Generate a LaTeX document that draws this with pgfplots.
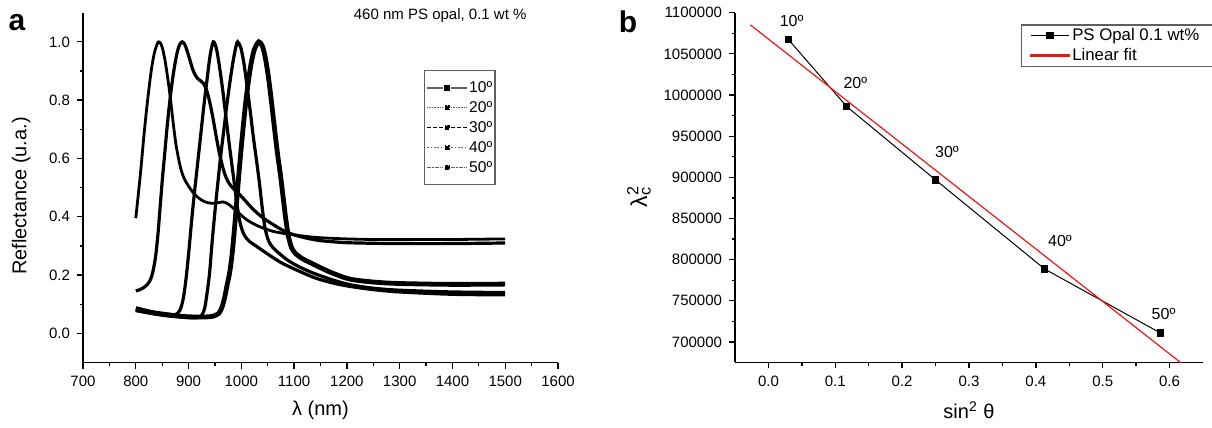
\documentclass[border=0pt]{standalone}
\usepackage{fontspec}
\setmainfont{Liberation Sans}
\usepackage{pgfplots}
\pgfplotsset{compat=1.18}

\definecolor{fitred}{RGB}{240,20,20}
\definecolor{leggray}{RGB}{95,95,95}

% Origin-like look: left and bottom axis lines, ticks outside
\pgfplotsset{
  originaxis/.style={
    scale only axis,
    axis x line=bottom, axis y line=left,
    axis line style={line width=0.65bp, -},
    tick align=outside,
    major tick length=3bp, minor tick length=1.7bp,
    every tick/.style={line width=0.65bp, black},
    minor tick num=1,
    tick label style={font=\fontsize{7.5bp}{8bp}\selectfont},
    label style={font=\fontsize{10bp}{12bp}\selectfont},
    /pgf/number format/assume math mode=true,
    /pgf/number format/1000 sep={},
    clip mode=individual,
    every axis title shift=0pt,
  }
}

\begin{document}
\begin{tikzpicture}
\useasboundingbox (0,0) rectangle (606bp,214bp);

% ---------- panel a ----------
\begin{axis}[originaxis,
  at={(41.5bp,32.75bp)}, anchor=south west,
  width=237.5bp, height=174.9bp,
  xmin=700, xmax=1600, ymin=-0.1, ymax=1.1,
  xtick={700,800,900,1000,1100,1200,1300,1400,1500,1600},
  ytick={0,0.2,0.4,0.6,0.8,1.0},
  yticklabel style={/pgf/number format/fixed, /pgf/number format/fixed zerofill, /pgf/number format/precision=1},
  xlabel={λ (nm)}, ylabel={Reflectance (u.a.)},
  xlabel style={at={(axis description cs:0.5,-0.136)}, anchor=center},
  ylabel style={at={(axis description cs:-0.13,0.476)}, anchor=center},
  title={460 nm PS opal, 0.1 wt \%},
  title style={at={(axis description cs:0.752,0.993)}, anchor=center, font=\fontsize{7.5bp}{8bp}\selectfont},
  legend cell align=left,
  legend style={at={(axis description cs:0.718,0.836)}, anchor=north west,
    draw=leggray, line width=0.65bp, inner xsep=0.75bp, inner ysep=3.5bp,
    font=\fontsize{7.8bp}{9bp}\selectfont,
    nodes={inner xsep=0.6bp, inner ysep=1bp, text height=6.3bp, text depth=1.7bp}},
  legend image code/.code={
    \draw[#1] (0bp,0bp) -- (8bp,0bp);
    \draw[#1] (12bp,0bp) -- (20bp,0bp);
    \fill[black] (9bp,-1bp) rectangle (11bp,1bp);},
]
% 50 deg
\addplot[black, line width=1.4bp, smooth, tension=0.5, forget plot] coordinates {
(800,0.395)(805,0.48)(810,0.57)(815,0.67)(820,0.76)(825,0.84)(830,0.91)(835,0.96)(840,0.99)(843,1.0)(847,0.995)(851,0.975)(856,0.93)(861,0.87)(866,0.8)(871,0.72)(876,0.65)(881,0.6)(886,0.56)(892,0.53)(900,0.505)(910,0.48)(920,0.463)(930,0.452)(940,0.447)(950,0.446)(958,0.449)(965,0.451)(972,0.447)(980,0.437)(990,0.421)(1000,0.405)(1010,0.39)(1025,0.374)(1040,0.362)(1060,0.35)(1080,0.343)(1100,0.338)(1125,0.332)(1150,0.328)(1200,0.324)(1250,0.322)(1300,0.322)(1400,0.322)(1500,0.324)
};
% 40 deg
\addplot[black, line width=1.6bp, smooth, tension=0.5, forget plot] coordinates {
(800,0.146)(808,0.15)(815,0.157)(821,0.166)(826,0.178)(830,0.195)(834,0.225)(838,0.27)(842,0.34)(846,0.43)(850,0.52)(855,0.62)(860,0.72)(866,0.82)(872,0.9)(878,0.96)(883,0.99)(888,1.0)(893,0.99)(898,0.965)(903,0.935)(908,0.905)(913,0.885)(918,0.873)(923,0.866)(928,0.858)(933,0.84)(938,0.81)(944,0.76)(950,0.7)(956,0.64)(962,0.59)(968,0.55)(975,0.52)(983,0.5)(992,0.485)(1000,0.47)(1010,0.45)(1020,0.43)(1035,0.405)(1050,0.385)(1065,0.368)(1080,0.352)(1100,0.338)(1125,0.326)(1150,0.318)(1175,0.314)(1200,0.311)(1250,0.309)(1300,0.308)(1400,0.308)(1500,0.31)
};
% 30 deg
\addplot[black, line width=1.6bp, smooth, tension=0.5, forget plot] coordinates {
(800,0.08)(820,0.073)(840,0.067)(860,0.063)(872,0.063)(880,0.07)(886,0.09)(891,0.13)(896,0.2)(901,0.29)(906,0.39)(911,0.48)(917,0.58)(923,0.68)(929,0.78)(935,0.87)(941,0.955)(947,1.0)(953,0.975)(959,0.91)(965,0.83)(971,0.74)(977,0.65)(982,0.58)(987,0.51)(992,0.44)(997,0.385)(1002,0.352)(1007,0.333)(1015,0.316)(1030,0.297)(1050,0.272)(1075,0.243)(1105,0.217)(1140,0.19)(1175,0.172)(1206,0.161)(1250,0.15)(1300,0.142)(1400,0.134)(1500,0.132)
};
% 20 deg
\addplot[black, line width=1.6bp, smooth, tension=0.5, forget plot] coordinates {
(800,0.078)(830,0.068)(860,0.06)(890,0.055)(910,0.053)(920,0.055)(926,0.065)(931,0.09)(936,0.15)(940,0.21)(944,0.3)(948,0.38)(952,0.455)(956,0.525)(961,0.61)(967,0.7)(973,0.79)(979,0.87)(985,0.94)(990,0.985)(993,1.0)(999,0.98)(1005,0.925)(1011,0.845)(1017,0.76)(1023,0.67)(1029,0.59)(1034,0.52)(1039,0.44)(1044,0.37)(1050,0.325)(1056,0.303)(1065,0.285)(1087,0.252)(1110,0.228)(1136,0.207)(1170,0.185)(1206,0.167)(1250,0.155)(1300,0.148)(1400,0.142)(1500,0.14)
};
% 10 deg
\addplot[black, line width=2.4bp, smooth, tension=0.5, forget plot] coordinates {
(800,0.085)(830,0.072)(860,0.064)(890,0.058)(916,0.056)(940,0.057)(950,0.061)(957,0.068)(963,0.088)(968,0.12)(973,0.165)(978,0.21)(983,0.28)(988,0.38)(992,0.47)(996,0.56)(1001,0.66)(1007,0.77)(1013,0.86)(1019,0.93)(1025,0.975)(1033,1.0)(1040,0.985)(1046,0.94)(1052,0.87)(1058,0.78)(1064,0.685)(1069,0.61)(1074,0.545)(1079,0.47)(1084,0.395)(1089,0.335)(1095,0.295)(1102,0.275)(1115,0.257)(1130,0.243)(1149,0.226)(1175,0.205)(1206,0.186)(1250,0.176)(1300,0.171)(1400,0.168)(1500,0.169)
};
\addlegendimage{leggray, line width=0.9bp}
\addlegendentry{10º}
\addlegendimage{leggray, line width=0.6bp, dash pattern=on 0.5bp off 0.3bp}
\addlegendentry{20º}
\addlegendimage{black, line width=0.6bp, dash pattern=on 2bp off 1bp}
\addlegendentry{30º}
\addlegendimage{leggray, line width=0.6bp, dash pattern=on 0.8bp off 0.9bp}
\addlegendentry{40º}
\addlegendimage{leggray, line width=0.6bp, dash pattern=on 2bp off 0.6bp on 0.6bp off 0.6bp}
\addlegendentry{50º}
\end{axis}

% ---------- panel b ----------
\begin{axis}[originaxis,
  at={(367.5bp,32.75bp)}, anchor=south west,
  width=234bp, height=174.9bp,
  xmin=-0.05, xmax=0.65, ymin=675000, ymax=1100000,
  xtick={0,0.1,0.2,0.3,0.4,0.5,0.6},
  ytick={700000,750000,800000,850000,900000,950000,1000000,1050000,1100000},
  scaled x ticks=false, scaled y ticks=false,
  xticklabel style={/pgf/number format/fixed, /pgf/number format/fixed zerofill, /pgf/number format/precision=1},
  yticklabel style={/pgf/number format/fixed, /pgf/number format/precision=0},
  xlabel={sin\textsuperscript{2} θ},
  ylabel={λ\rlap{\textsubscript{c}}\textsuperscript{2}},
  xlabel style={at={(axis description cs:0.5,-0.136)}, anchor=center},
  ylabel style={at={(axis description cs:-0.205,0.475)}, anchor=center, font=\fontsize{11.5bp}{13bp}\selectfont},
  legend cell align=left,
  legend style={at={(axis description cs:0.6105,0.9668)}, anchor=north west,
    draw=leggray, line width=0.65bp, inner xsep=4.55bp, inner ysep=0.35bp,
    font=\fontsize{8.4bp}{9bp}\selectfont,
    nodes={inner xsep=1.25bp, inner ysep=0.4bp, text height=7bp, text depth=2.2bp}},
  legend image code/.code={
    \draw[mark repeat=2, mark phase=2, #1] plot coordinates {(0bp,0bp) (9.5bp,0bp) (19bp,0bp)};},
]
\addplot[black, line width=0.5bp, mark=square*, mark size=1.6bp]
coordinates {
(0.0302,1067089)(0.1170,986049)(0.2500,896809)(0.4132,788544)(0.5868,710649)
};
\addlegendentry{\makebox[72bp][l]{PS Opal 0.1 wt\%}}
\addplot[fitred, line width=0.6bp, forget plot]
coordinates {(-0.027,1085201)(0.62,672683)};
\addlegendimage{legend image code/.code={\fill[fitred] (0bp,-0.3bp) rectangle (19bp,0.3bp);}}
\addlegendentry{Linear fit}
\node[font=\fontsize{8bp}{9bp}\selectfont] at (axis cs:0.0347,1089900) {10º};
\node[font=\fontsize{8bp}{9bp}\selectfont] at (axis cs:0.130,1015150) {20º};
\node[font=\fontsize{8bp}{9bp}\selectfont] at (axis cs:0.267,930300) {30º};
\node[font=\fontsize{8bp}{9bp}\selectfont] at (axis cs:0.436,822400) {40º};
\node[font=\fontsize{8bp}{9bp}\selectfont] at (axis cs:0.591,734300) {50º};
\end{axis}

% panel letters
\node[anchor=base, font=\fontsize{15bp}{17bp}\selectfont\bfseries] at (8.5bp,198.5bp) {a};
\node[anchor=base, font=\fontsize{15bp}{17bp}\selectfont\bfseries] at (314bp,197.5bp) {b};
\end{tikzpicture}
\end{document}
